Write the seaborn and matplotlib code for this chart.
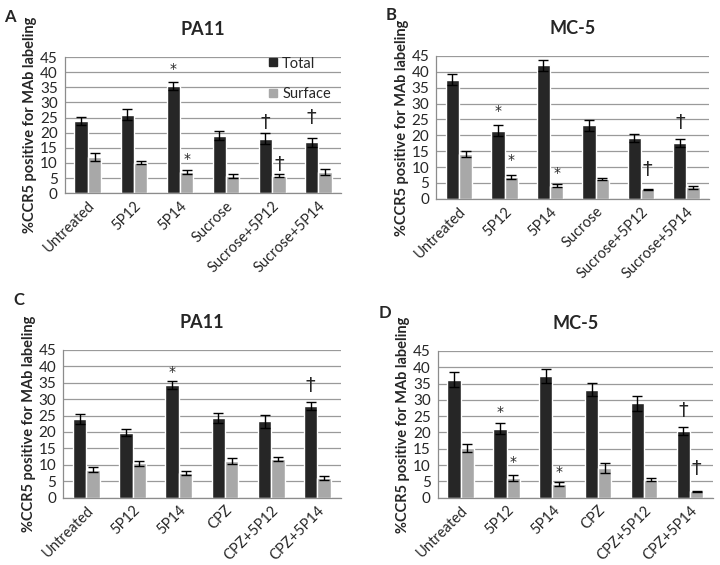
import matplotlib
matplotlib.use("Agg")
import matplotlib.pyplot as plt
import seaborn as sns
import pandas as pd
import numpy as np

# ---- data ----
cats_ab = ["Untreated", "5P12", "5P14", "Sucrose", "Sucrose+5P12", "Sucrose+5P14"]
cats_cd = ["Untreated", "5P12", "5P14", "CPZ", "CPZ+5P12", "CPZ+5P14"]
series = ["Total", "Surface"]

a_total = [24.0, 26.0, 35.5, 19.0, 18.0, 16.8]
a_total_err = [1.3, 1.8, 1.3, 1.5, 1.8, 1.4]
a_surf = [12.0, 10.0, 7.0, 5.7, 5.8, 7.0]
a_surf_err = [1.2, 0.5, 0.7, 0.6, 0.6, 0.9]

b_total = [37.5, 21.5, 42.0, 23.2, 19.2, 17.6]
b_total_err = [1.7, 1.8, 1.8, 1.7, 1.3, 1.3]
b_surf = [14.2, 7.0, 4.2, 6.3, 3.0, 3.6]
b_surf_err = [0.9, 0.6, 0.5, 0.4, 0.2, 0.4]

c_total = [24.0, 19.8, 34.2, 24.2, 23.2, 28.0]
c_total_err = [1.5, 1.1, 1.2, 1.5, 2.0, 1.2]
c_surf = [8.5, 10.5, 7.5, 11.2, 11.7, 6.0]
c_surf_err = [0.8, 0.8, 0.6, 1.0, 0.6, 0.5]

d_total = [36.2, 21.2, 37.3, 33.1, 28.9, 20.4]
d_total_err = [2.3, 1.6, 2.0, 2.0, 2.3, 1.2]
d_surf = [15.3, 6.1, 4.3, 9.0, 5.5, 2.0]
d_surf_err = [1.2, 0.9, 0.6, 1.5, 0.5, 0.2]

# significance marks: (category index, series index, y, symbol)
a_marks = [(2, 0, 39.7, "*"), (2, 1, 9.9, "*"), (4, 0, 21.5, "†"), (4, 1, 7.8, "†"), (5, 0, 23.3, "†")]
b_marks = [(1, 0, 26.4, "*"), (1, 1, 10.9, "*"), (2, 1, 6.8, "*"), (4, 1, 7.6, "†"), (5, 0, 22.4, "†")]
c_marks = [(2, 0, 37.0, "*"), (5, 0, 32.4, "†")]
d_marks = [(1, 0, 25.2, "*"), (1, 1, 9.6, "*"), (2, 1, 6.6, "*"), (5, 0, 25.0, "†"), (5, 1, 7.2, "†")]

colors = ["#262626", "#a8a8a8"]

sns.set_style("white")
plt.rcParams["font.family"] = ["Lato", "DejaVu Sans"]

fig = plt.figure(figsize=(7.2, 5.65), dpi=100)


def panel(rect, letter, letter_xy, title, cats, tot, tot_e, sur, sur_e, marks, legend=False):
    ax = fig.add_axes(rect)
    df = pd.DataFrame({
        "cat": cats * 2,
        "val": tot + sur,
        "type": ["Total"] * len(cats) + ["Surface"] * len(cats),
    })
    sns.barplot(data=df, x="cat", y="val", hue="type", palette=colors,
                errorbar=None, width=0.58, gap=0, ax=ax, legend=False, saturation=1)
    bars = list(ax.containers)
    errs = [tot_e, sur_e]
    for k, cont in enumerate(bars):
        for bar, e in zip(cont, errs[k]):
            xc = bar.get_x() + bar.get_width() / 2
            ax.errorbar(xc, bar.get_height(), yerr=e, color="black", lw=1.0,
                        capsize=3.5, capthick=1.0, zorder=4)
    for ci, si, y, sym in marks:
        bar = bars[si][ci]
        xc = bar.get_x() + bar.get_width() / 2
        size = 10 if sym == "*" else 14
        ax.text(xc, y, sym, ha="center", va="baseline", fontsize=size,
                family="DejaVu Sans")
    ax.set_ylim(0, 45)
    ax.set_xlim(-0.5, len(cats) - 0.5)
    ax.set_yticks(np.arange(0, 46, 5))
    ax.yaxis.grid(True, color="#9a9a9a", lw=0.9)
    ax.set_axisbelow(True)
    for s in ["top", "right"]:
        ax.spines[s].set_visible(False)
    for s in ["left", "bottom"]:
        ax.spines[s].set_color("#8c8c8c")
        ax.spines[s].set_linewidth(0.9)
    ax.set_xticks(np.arange(len(cats)))
    ax.set_xticklabels(cats, rotation=45, ha="right", rotation_mode="anchor", fontsize=10.5)
    ax.set_xticks(np.arange(len(cats) + 1) - 0.5, minor=True)
    ax.tick_params(axis="x", which="major", length=0, pad=4)
    ax.tick_params(axis="x", which="minor", length=4, color="#8c8c8c", width=0.9)
    ax.tick_params(axis="y", length=3, color="#8c8c8c", width=0.9, labelsize=11, pad=2)
    ax.set_xlabel("")
    ax.set_ylabel("%CCR5 positive for MAb labeling", fontsize=10.5, fontweight="bold", labelpad=2)
    ax.set_title(title, fontsize=13, fontweight="bold", pad=16)
    fig.text(letter_xy[0], letter_xy[1], letter, fontsize=12, fontweight="bold",
             ha="left", va="top")
    if legend:
        h = [plt.Line2D([], [], marker="s", ls="", color=c, markersize=6) for c in colors]
        ax.legend(h, series, loc="upper right", bbox_to_anchor=(1.01, 1.10), frameon=False,
                  labelspacing=1.15, handletextpad=0.1, fontsize=10.5, handlelength=1.0)
    return ax


panel([0.090, 0.658, 0.384, 0.241], "A", (0.006, 0.984), "PA11",
      cats_ab, a_total, a_total_err, a_surf, a_surf_err, a_marks, legend=True)
panel([0.606, 0.648, 0.379, 0.253], "B", (0.535, 0.988), "MC-5",
      cats_ab, b_total, b_total_err, b_surf, b_surf_err, b_marks)
panel([0.088, 0.119, 0.385, 0.262], "C", (0.018, 0.484), "PA11",
      cats_cd, c_total, c_total_err, c_surf, c_surf_err, c_marks)
panel([0.608, 0.119, 0.382, 0.260], "D", (0.526, 0.461), "MC-5",
      cats_cd, d_total, d_total_err, d_surf, d_surf_err, d_marks)

fig.savefig("out.png", dpi=100)
